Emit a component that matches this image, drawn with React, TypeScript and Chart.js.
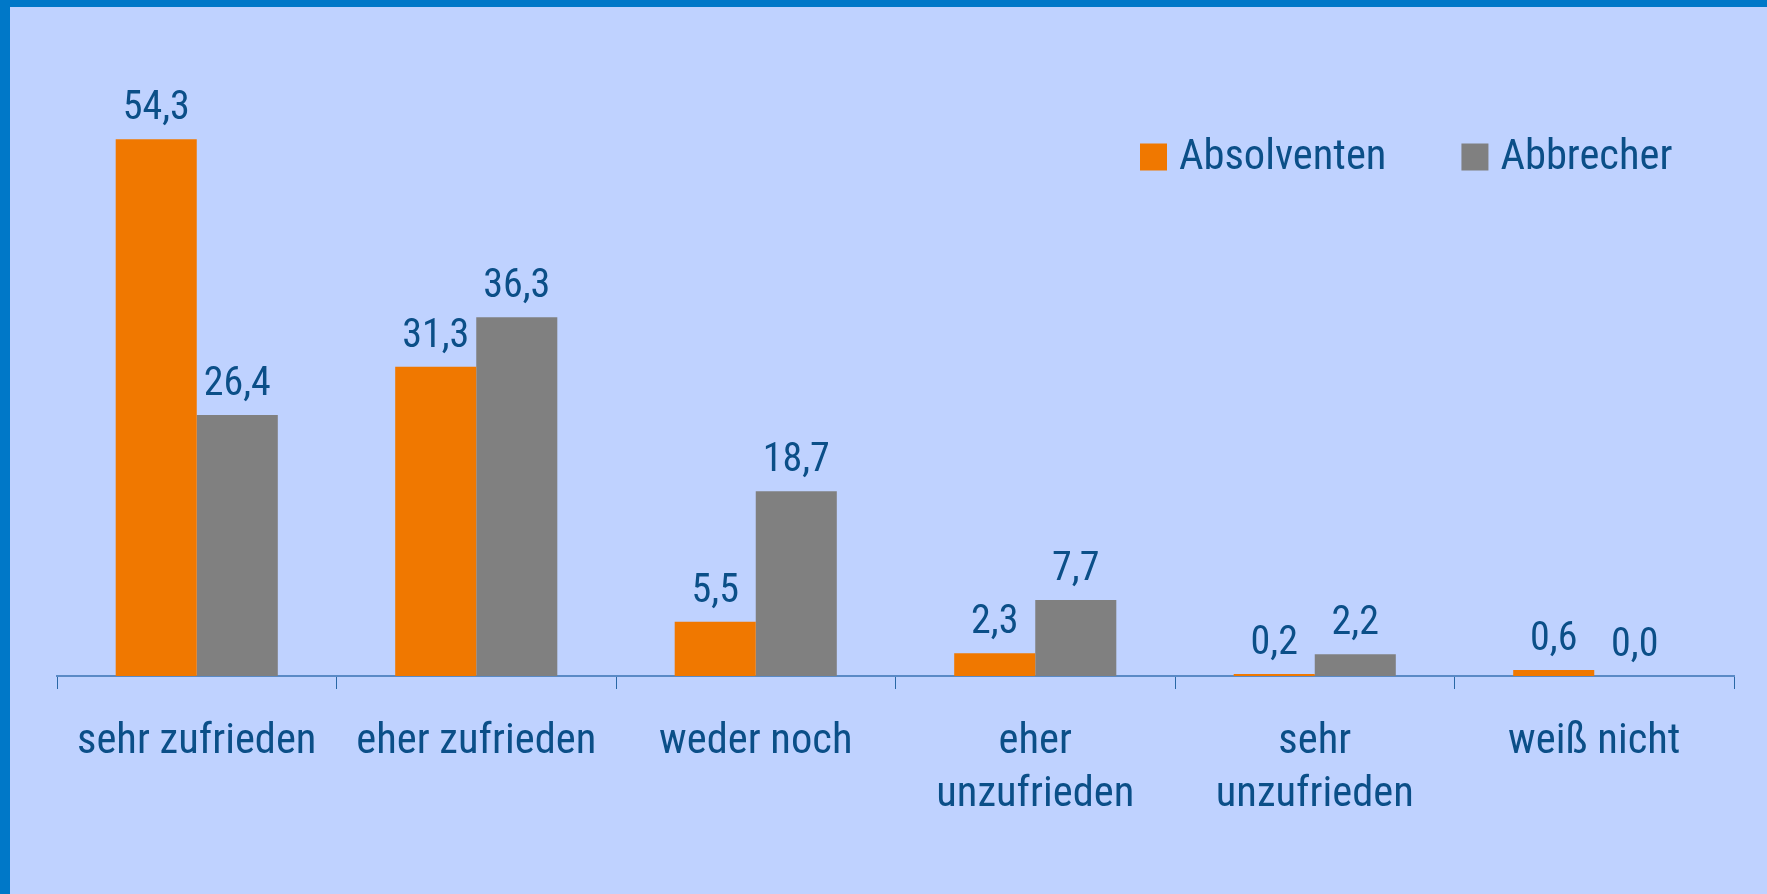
import React, { useEffect, useRef } from "react";
import { Chart, registerables } from "chart.js";

Chart.register(...registerables);

const categories: (string | string[])[] = [
  "sehr zufrieden",
  "eher zufrieden",
  "weder noch",
  ["eher", "unzufrieden"],
  ["sehr", "unzufrieden"],
  "weiß nicht",
];
const seriesNames = ["Absolventen", "Abbrecher"];
const absolventen = [54.3, 31.3, 5.5, 2.3, 0.2, 0.6];
const abbrecher = [26.4, 36.3, 18.7, 7.7, 2.2, 0.0];

const ORANGE = "#f07800";
const GRAY = "#808080";
const TEXT = "#0b4f88";
const BG = "#bfd2ff";
const FRAME = "#0078c8";
const FAMILY = "'Roboto', sans-serif";

const valueLabels = {
  id: "valueLabels",
  afterDatasetsDraw(chart: any) {
    const ctx = chart.ctx;
    ctx.save();
    ctx.font = `condensed 40px ${FAMILY}`;
    ctx.fillStyle = TEXT;
    ctx.textAlign = "center";
    ctx.textBaseline = "alphabetic";
    chart.data.datasets.forEach((ds: any, di: number) => {
      const meta = chart.getDatasetMeta(di);
      meta.data.forEach((el: any, i: number) => {
        const v = ds.data[i] as number;
        const txt = v.toFixed(1).replace(".", ",");
        ctx.fillText(txt, el.x, el.y - 20);
      });
    });
    ctx.restore();
  },
};

const customLegend = {
  id: "customLegend",
  afterDraw(chart: any) {
    const ctx = chart.ctx;
    ctx.save();
    ctx.font = `condensed 42.5px ${FAMILY}`;
    ctx.textBaseline = "middle";
    ctx.textAlign = "left";
    const box = 27;
    const cy = 157;
    let x = 1140;
    chart.data.datasets.forEach((ds: any) => {
      ctx.fillStyle = ds.backgroundColor;
      ctx.fillRect(x, cy - box / 2, box, box);
      ctx.fillStyle = TEXT;
      ctx.fillText(ds.label, x + box + 12, cy + 1);
      x += box + 12 + ctx.measureText(ds.label).width + 75;
    });
    ctx.restore();
  },
};

export default function App() {
  const ref = useRef<HTMLCanvasElement>(null);
  useEffect(() => {
    document.body.style.margin = "0";
    const chart = new Chart(ref.current!, {
      type: "bar",
      data: {
        labels: categories,
        datasets: [
          { label: seriesNames[0], data: absolventen, backgroundColor: ORANGE, borderWidth: 0 },
          { label: seriesNames[1], data: abbrecher, backgroundColor: GRAY, borderWidth: 0 },
        ],
      },
      options: {
        responsive: false,
        animation: false,
        layout: { padding: { left: 57, right: 33, top: 83, bottom: 0 } },
        plugins: { legend: { display: false }, tooltip: { enabled: false } },
        datasets: { bar: { categoryPercentage: 0.58, barPercentage: 1.0 } },
        scales: {
          x: {
            afterFit: (scale: any) => {
              scale.height = 218;
            },
            grid: {
              display: true,
              drawOnChartArea: false,
              drawTicks: true,
              tickLength: 13,
              color: "#2a68a6",
              lineWidth: 1,
              offset: true,
            },
            border: { display: true, color: "#5a8ac6", width: 2 },
            ticks: {
              color: TEXT,
              font: { family: FAMILY, weight: "condensed" as any, size: 42.5, lineHeight: 1.247 },
              padding: 27,
              maxRotation: 0,
              autoSkip: false,
            },
          },
          y: { display: false, min: 0, max: 60 },
        },
      },
      plugins: [valueLabels, customLegend],
    });
    return () => chart.destroy();
  }, []);
  return (
    <div style={{ position: "fixed", left: 0, top: 0, width: 1767, height: 894, background: BG, overflow: "hidden" }}>
      <div style={{ position: "absolute", left: 0, top: 0, width: 1767, height: 7, background: FRAME }} />
      <div style={{ position: "absolute", left: 0, top: 0, width: 10, height: 894, background: FRAME }} />
      <canvas ref={ref} width={1767} height={894} style={{ position: "absolute", left: 0, top: 0 }} />
    </div>
  );
}
